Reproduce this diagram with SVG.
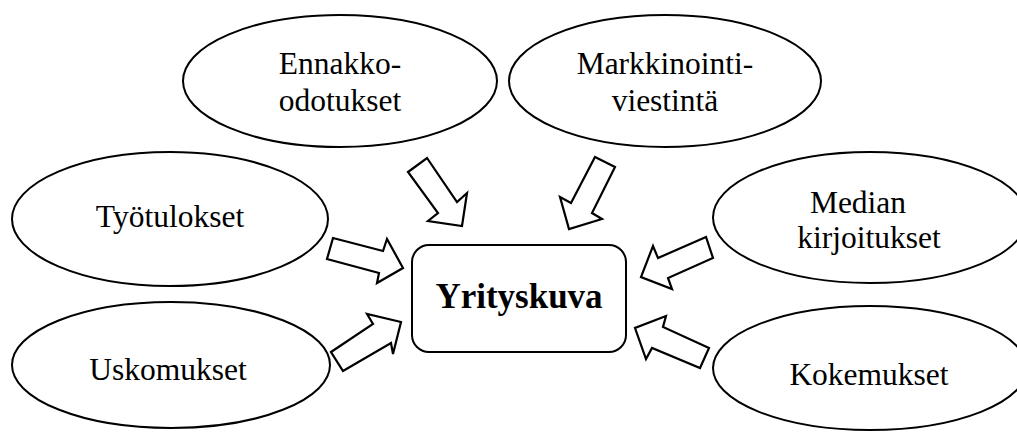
<svg xmlns="http://www.w3.org/2000/svg" width="1017" height="432" viewBox="0 0 1017 432">
<style>
.n{fill:#fff;stroke:#000;stroke-width:2}
.t{font-family:"Liberation Serif","Times New Roman",serif;font-size:31.5px;fill:#000;text-anchor:middle}
.b{font-weight:bold;font-size:35px}
.a{fill:#fff;stroke:#000;stroke-width:2.2;stroke-linejoin:miter}
</style>
<rect width="1017" height="432" fill="#fff"/>
<g id="ennakko">
<ellipse class="n" cx="340" cy="81" rx="157" ry="66"/>
<text class="t" x="340" y="74">Ennakko-</text>
<text class="t" x="340" y="111">odotukset</text>
</g>
<g id="markkinointi">
<ellipse class="n" cx="665" cy="81" rx="156" ry="66"/>
<text class="t" x="665" y="74">Markkinointi-</text>
<text class="t" x="665" y="111">viestintä</text>
</g>
<g id="tyotulokset">
<ellipse class="n" cx="170" cy="219" rx="158" ry="67"/>
<text class="t" x="170" y="227">Työtulokset</text>
</g>
<g id="uskomukset">
<ellipse class="n" cx="171" cy="365" rx="159" ry="63"/>
<text class="t" x="168" y="380">Uskomukset</text>
</g>
<g id="median">
<ellipse class="n" cx="870" cy="217.5" rx="157" ry="65.5"/>
<text class="t" x="858" y="213">Median</text>
<text class="t" x="869" y="248">kirjoitukset</text>
</g>
<g id="kokemukset">
<ellipse class="n" cx="870" cy="368" rx="157" ry="62"/>
<text class="t" x="869" y="385">Kokemukset</text>
</g>
<g id="yrityskuva">
<rect class="n" x="412" y="245" width="214" height="107" rx="17"/>
<text class="t b" x="519" y="308">Yrityskuva</text>
</g>
<g id="connectors">
<polygon class="a" points="408,172 427,158 457,202 467,193 462,226 428,221 438,213"/>
<polygon class="a" points="595,157 615,167 592,213 602,219 569,229 560,197 571,203"/>
<polygon class="a" points="333,238 383,251 387,239 403,268 377,283 379,273 327,259"/>
<polygon class="a" points="331,352 373,324 367,314 401,322 393,354 391,343 343,371"/>
<polygon class="a" points="706,237 658,258 653,246 641,277 672,289 668,278 713,258"/>
<polygon class="a" points="709,348 663,327 666,316 635,328 646,359 652,348 700,368"/>
</g>
</svg>
